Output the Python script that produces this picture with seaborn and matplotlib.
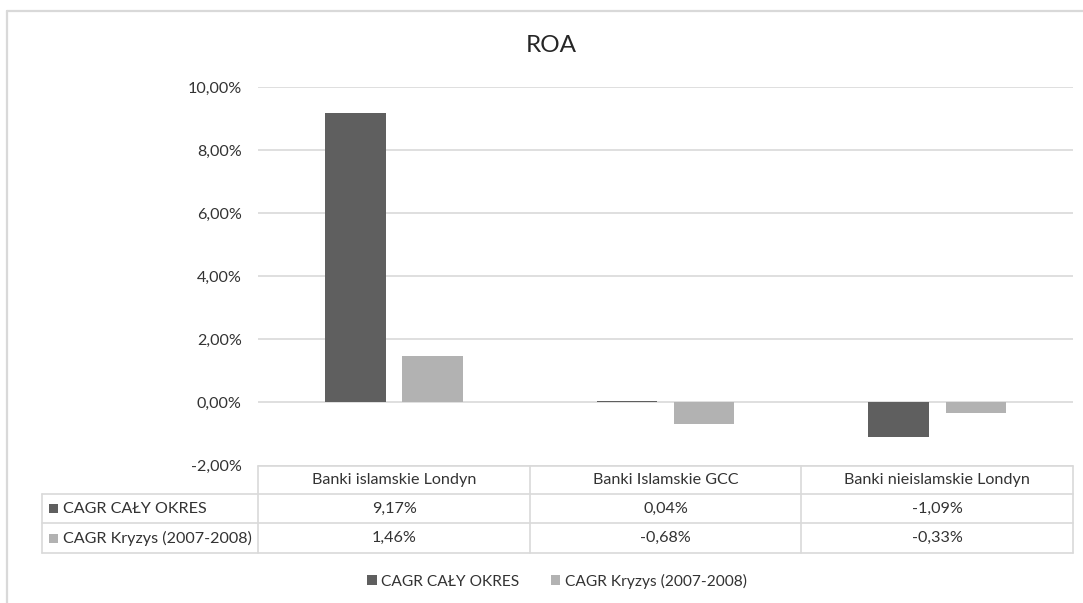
import matplotlib
matplotlib.use("Agg")
import matplotlib.pyplot as plt
from matplotlib.patches import Rectangle
from matplotlib.ticker import FuncFormatter, MultipleLocator
import seaborn as sns
import pandas as pd

categories = ["Banki islamskie Londyn", "Banki Islamskie GCC", "Banki nieislamskie Londyn"]
series_names = ["CAGR CAŁY OKRES", "CAGR Kryzys (2007-2008)"]
cagr_caly = [9.17, 0.04, -1.09]
cagr_kryzys = [1.46, -0.68, -0.33]
title = "ROA"

colors = ["#5f5f5f", "#b2b2b2"]
grid_c = "#d9d9d9"
text_c = "#333333"

sns.set_theme(style="white")
plt.rcParams["font.family"] = ["Lato", "DejaVu Sans"]

df = pd.DataFrame({
    "cat": categories * 2,
    "series": [series_names[0]] * 3 + [series_names[1]] * 3,
    "value": cagr_caly + cagr_kryzys,
})

W, H = 1083, 603
fig = plt.figure(figsize=(W / 100, H / 100), dpi=100)
ax = fig.add_axes([258.3 / W, 1 - 465.5 / H, (1073 - 258.3) / W, (465.5 - 87.3) / H])

sns.barplot(data=df, x="cat", y="value", hue="series", order=categories,
            hue_order=series_names, palette=colors, width=0.568, gap=0.216,
            saturation=1, ax=ax, legend=False, edgecolor="none", zorder=3)

ax.set_ylim(-2, 10)
ax.set_xlim(-0.5, 2.5)
ax.yaxis.set_major_locator(MultipleLocator(2))
ax.yaxis.set_major_formatter(FuncFormatter(lambda v, p: f"{v:.2f}%".replace(".", ",")))
ax.grid(axis="y", color=grid_c, lw=1.2, zorder=0)
ax.set_axisbelow(True)
for s in ax.spines.values():
    s.set_visible(False)
ax.tick_params(axis="y", length=0, pad=12, labelsize=11.6, labelcolor=text_c)
ax.set_xticks([])
ax.set_xlabel("")
ax.set_ylabel("")
ax.patch.set_alpha(0)

# overlay in pixel coordinates for table, title, border
ov = fig.add_axes([0, 0, 1, 1], zorder=-1)
ov.set_xlim(0, W)
ov.set_ylim(H, 0)
ov.axis("off")

# border of chart area
ov.plot([7, 7], [11, H], color=grid_c, lw=1.6)
ov.plot([7, W], [11, 11], color=grid_c, lw=1.6)

ov.text(551, 46, title, ha="center", va="center", fontsize=17.5, color="#262626")

# column boundaries from data axes
fig.canvas.draw()
def px(xd):
    disp = ax.transData.transform((xd, 0))
    return disp[0] * W / fig.bbox.width
bounds = [px(i - 0.5) for i in range(len(categories) + 1)]
row_y = [466, 494.3, 523.3, 553.3]
left_x = 42

lw = 1.2
# horizontal lines
ov.plot([bounds[0], bounds[-1]], [row_y[0], row_y[0]], color=grid_c, lw=lw)
for y in row_y[1:]:
    ov.plot([left_x, bounds[-1]], [y, y], color=grid_c, lw=lw)
# vertical lines
ov.plot([left_x, left_x], [row_y[1], row_y[3]], color=grid_c, lw=lw)
for b in bounds:
    ov.plot([b, b], [row_y[0], row_y[3]], color=grid_c, lw=lw)

fs = 11.6
for i, cat in enumerate(categories):
    cx = (bounds[i] + bounds[i + 1]) / 2
    ov.text(cx, (row_y[0] + row_y[1]) / 2, cat, ha="center", va="center", fontsize=fs, color=text_c)
    for r, vals in enumerate([cagr_caly, cagr_kryzys]):
        ov.text(cx, (row_y[r + 1] + row_y[r + 2]) / 2, f"{vals[i]:.2f}%".replace(".", ","),
                ha="center", va="center", fontsize=fs, color=text_c)

for r, name in enumerate(series_names):
    yc = (row_y[r + 1] + row_y[r + 2]) / 2
    ov.add_patch(Rectangle((49, yc - 4.5), 9, 9, color=colors[r], lw=0))
    ov.text(63, yc, name, ha="left", va="center", fontsize=fs, color=text_c)

# legend
handles = [Rectangle((0, 0), 1, 1, color=c, lw=0) for c in colors]
fig.legend(handles, series_names, loc="center", bbox_to_anchor=(557 / W, 1 - 581 / H),
           ncol=2, frameon=False, fontsize=11.2, handlelength=0.6, handleheight=0.6,
           handletextpad=0.3, columnspacing=2.0, labelcolor=text_c)

fig.savefig("out.png", dpi=100)
